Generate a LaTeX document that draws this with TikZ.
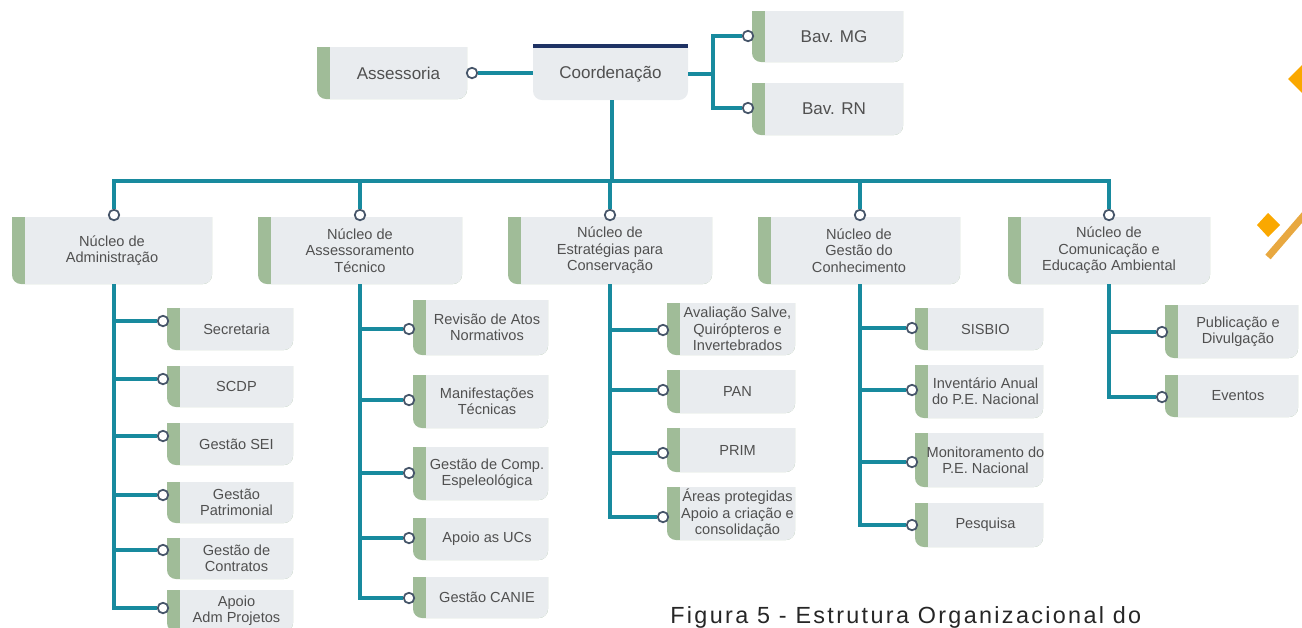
\documentclass[tikz,border=0pt]{standalone}
\usepackage{fontspec}
\setmainfont{Liberation Sans}
\newfontfamily\capfont[LetterSpace=10]{Liberation Sans}
\usepackage[dvipsnames,svgnames]{xcolor}
\definecolor{boxgrey}{RGB}{233,236,239}
\definecolor{stripgreen}{RGB}{160,188,152}
\definecolor{linkteal}{RGB}{24,138,158}
\definecolor{dotrim}{RGB}{70,85,105}
\definecolor{navybar}{RGB}{30,50,100}
\definecolor{txtgrey}{RGB}{80,80,80}
\definecolor{orangeA}{RGB}{250,168,0}
\definecolor{orangeB}{RGB}{232,168,64}
% box with green strip, square top, round bottom
\newcommand{\orgbox}[7][13]{%
  \fill[stripgreen] (#3,-#4) -- (#5,-#4) -- (#5,-#6+9) arc[start angle=0,end angle=-90,radius=9]
    -- (#3+9,-#6) arc[start angle=270,end angle=180,radius=9] -- cycle;
  \fill[boxgrey] (#3+13,-#4) -- (#5,-#4) -- (#5,-#6+9) arc[start angle=0,end angle=-90,radius=9]
    -- (#3+13,-#6) -- cycle;
  \node[boxnode,minimum width={(#5-#3-#1)*0.02cm},minimum height={(#6-#4)*0.02cm}]
    (#2) at ({(#3+#1+#5)/2},{-(#4+#6)/2}) {#7};
}

\begin{document}
\begin{tikzpicture}[x=0.02cm,y=0.02cm,
  link/.style={draw=linkteal,line width=2pt},
  dot/.style={circle,draw=dotrim,fill=white,line width=1pt,inner sep=0pt,minimum size=0.21cm},
  boxnode/.style={inner sep=0pt,align=center,text=txtgrey,font=\fontsize{8.3}{9.3}\selectfont}]
\useasboundingbox (0,0) rectangle (1302,-627);

% top level
\fill[boxgrey] (533,-48) -- (688,-48) -- (688,-91) arc[start angle=0,end angle=-90,radius=9]
  -- (542,-100) arc[start angle=270,end angle=180,radius=9] -- cycle;
\fill[navybar] (533,-43.5) rectangle (688,-47.5);
\node[boxnode,font=\fontsize{9.7}{11}\selectfont,minimum width=3.1cm,minimum height=1.04cm] (coord) at (610.5,-74) {Coordenação};
\begin{scope}[boxnode/.append style={font=\fontsize{9.7}{11}\selectfont}]
\orgbox{ass}{317}{47}{467}{99}{Assessoria}
\orgbox{mg}{752}{11}{903}{62}{Bav. MG}
\orgbox{rn}{752}{83}{903}{135}{Bav. RN}
\end{scope}

% nucleos
\orgbox[0]{nAdm}{12}{217}{212}{284}{Núcleo de\\Administração}
\orgbox[0]{nAsT}{258}{217}{462}{284}{Núcleo de\\Assessoramento\\Técnico}
\orgbox[0]{nEst}{508}{217}{712}{284}{Núcleo de\\Estratégias para\\Conservação}
\orgbox[0]{nGes}{758}{217}{960}{284}{Núcleo de\\Gestão do\\Conhecimento}
\orgbox[0]{nCom}{1008}{217}{1210}{284}{Núcleo de\\Comunicação e\\Educação Ambiental}

% administracao
\orgbox{bSec}{167}{308}{293}{350}{Secretaria}
\orgbox{bScd}{167}{366}{293}{407}{SCDP}
\orgbox{bSei}{167}{423}{293}{465}{Gestão SEI}
\orgbox{bPat}{167}{482}{293}{523}{Gestão\\Patrimonial}
\orgbox{bCon}{167}{538}{293}{579}{Gestão de\\Contratos}
\orgbox{bApo}{167}{590}{293}{632}{Apoio\\Adm Projetos}
% assessoramento
\orgbox{bRev}{413}{300}{548}{355}{Revisão de Atos\\Normativos}
\orgbox{bMan}{413}{375}{548}{428}{Manifestações\\Técnicas}
\orgbox{bEsp}{413}{447}{548}{500}{Gestão de Comp.\\Espeleológica}
\orgbox{bUCs}{413}{518}{548}{560}{Apoio as UCs}
\orgbox{bCan}{413}{577}{548}{618}{Gestão CANIE}
% estrategias
\orgbox{bAva}{667}{303}{795}{355}{Avaliação Salve,\\Quirópteros e\\Invertebrados}
\orgbox{bPan}{667}{370}{795}{413}{PAN}
\orgbox{bPri}{667}{428}{795}{472}{PRIM}
\orgbox{bAre}{667}{487}{795}{540}{Áreas protegidas\\Apoio a criação e\\consolidação}
% gestao do conhecimento
\orgbox{bSis}{915}{308}{1043}{350}{SISBIO}
\orgbox{bInv}{915}{365}{1043}{418}{Inventário Anual\\do P.E. Nacional}
\orgbox{bMon}{915}{433}{1043}{487}{Monitoramento do\\P.E. Nacional}
\orgbox{bPes}{915}{503}{1043}{547}{Pesquisa}
% comunicacao
\orgbox{bPub}{1165}{305}{1298}{358}{Publicação e\\Divulgação}
\orgbox{bEve}{1165}{375}{1298}{417}{Eventos}

% dots
\node[dot] (kAss) at (472,-73) {};
\node[dot] (kMG) at (748,-36) {};
\node[dot] (kRN) at (748,-108) {};
\node[dot] (kAdm) at (114,-215) {};
\node[dot] (kAsT) at (360,-215) {};
\node[dot] (kEst) at (610,-215) {};
\node[dot] (kGes) at (860,-215) {};
\node[dot] (kCom) at (1109,-215) {};
\node[dot] (cSec) at (163,-321) {};
\node[dot] (cScd) at (163,-379) {};
\node[dot] (cSei) at (163,-436) {};
\node[dot] (cPat) at (163,-495) {};
\node[dot] (cCon) at (163,-550) {};
\node[dot] (cApo) at (163,-608) {};
\node[dot] (cRev) at (409,-329) {};
\node[dot] (cMan) at (409,-400) {};
\node[dot] (cEsp) at (409,-473) {};
\node[dot] (cUCs) at (409,-538) {};
\node[dot] (cCan) at (409,-598) {};
\node[dot] (cAva) at (663,-330) {};
\node[dot] (cPan) at (663,-390) {};
\node[dot] (cPri) at (663,-453) {};
\node[dot] (cAre) at (663,-517) {};
\node[dot] (cSis) at (912,-328) {};
\node[dot] (cInv) at (912,-390) {};
\node[dot] (cMon) at (912,-462) {};
\node[dot] (cPes) at (912,-525) {};
\node[dot] (cPub) at (1162,-332) {};
\node[dot] (cEve) at (1162,-397) {};

% links
\coordinate (bav) at (713,-73);
\coordinate (bus) at (612,-181);
\draw[link] (kAss) -- (kAss -| coord.west);
\draw[link] (coord.east) -- (coord.east -| bav);
\draw[link] (kMG) -| (bav) |- (kRN);
\draw[link] (coord.south -| bus) -- (bus);
\draw[link] (kAdm) |- (bus) -| (kCom);
\foreach \k in {kAsT,kEst,kGes}
  \draw[link] (bus) -| (\k);
\foreach \c in {cSec,cScd,cSei,cPat,cCon,cApo}
  \draw[link] (nAdm.south -| kAdm) |- (\c);
\foreach \c in {cRev,cMan,cEsp,cUCs,cCan}
  \draw[link] (nAsT.south -| kAsT) |- (\c);
\foreach \c in {cAva,cPan,cPri,cAre}
  \draw[link] (nEst.south -| kEst) |- (\c);
\foreach \c in {cSis,cInv,cMon,cPes}
  \draw[link] (nGes.south -| kGes) |- (\c);
\foreach \c in {cPub,cEve}
  \draw[link] (nCom.south -| kCom) |- (\c);

% decoration
\fill[orangeA] (1288,-79) -- (1302,-65) -- (1316,-79) -- (1302,-93) -- cycle;
\fill[orangeA] (1257,-225) -- (1268,-213) -- (1280,-225) -- (1268,-237) -- cycle;
\draw[orangeB,line width=4pt] (1268,-257) -- (1312,-206);

\node[anchor=base west,inner sep=0pt,font=\capfont\fontsize{13.3}{15}\selectfont,text=black!85] (cap) at (670,-623) {Figura 5 - Estrutura Organizacional do};
\end{tikzpicture}
\end{document}
